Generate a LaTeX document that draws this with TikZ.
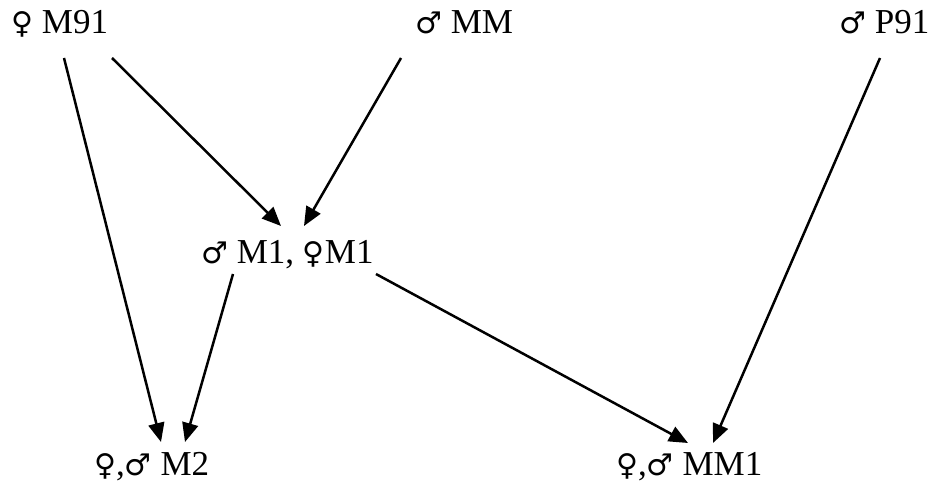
\documentclass[tikz,border=0pt]{standalone}
\usepackage{fontspec}
\setmainfont{Liberation Serif}
\newfontfamily\symfont{DejaVu Sans}
% sex symbols, set a little smaller than the letters
\newcommand{\sexsym}[1]{{\symfont\fontsize{30}{36}\selectfont #1}}
\newcommand{\fem}{\sexsym{♀}}
\newcommand{\mal}{\sexsym{♂}}
\usetikzlibrary{arrows.meta,calc}
\tikzset{
  lbl/.style={inner sep=0pt, anchor=base west, font=\fontsize{35}{40}\selectfont},
  arr/.style={line width=2.5pt, -{Triangle[length=19pt,width=16pt]}}
}
\begin{document}
\begin{tikzpicture}[x=1pt,y=-1pt]
  \useasboundingbox (0,0) rectangle (936,489);
  % parents
  \node[lbl] (m91) at (11,34) {\fem\ M91};
  \node[lbl] (mm)  at (415,34) {\mal\ MM};
  \node[lbl] (p91) at (839,34) {\mal\ P91};
  % first generation
  \node[lbl] (m1)  at (201,263) {\mal\ M1, \fem M1};
  % offspring
  \node[lbl] (m2)  at (94,475) {\fem,\mal\ M2};
  \node[lbl] (mm1) at (616,475) {\fem,\mal\ MM1};
  % crosses
  \draw[arr] ($(m91.base west)+(53,24)$)  -- ($(m2.base west)+(67,-33)$);
  \draw[arr] ($(m91.base west)+(101,24)$) -- ($(m1.base west)+(80,-37)$);
  \draw[arr] ($(mm.base west)+(-14,24)$)  -- ($(m1.base west)+(103,-37)$);
  \draw[arr] ($(p91.base west)+(41,24)$)  -- ($(mm1.base west)+(97,-32)$);
  \draw[arr] ($(m1.base west)+(32,11)$)   -- ($(m2.base west)+(91,-33)$);
  \draw[arr] ($(m1.base west)+(175,11)$)  -- ($(mm1.base west)+(72,-32)$);
\end{tikzpicture}
\end{document}
